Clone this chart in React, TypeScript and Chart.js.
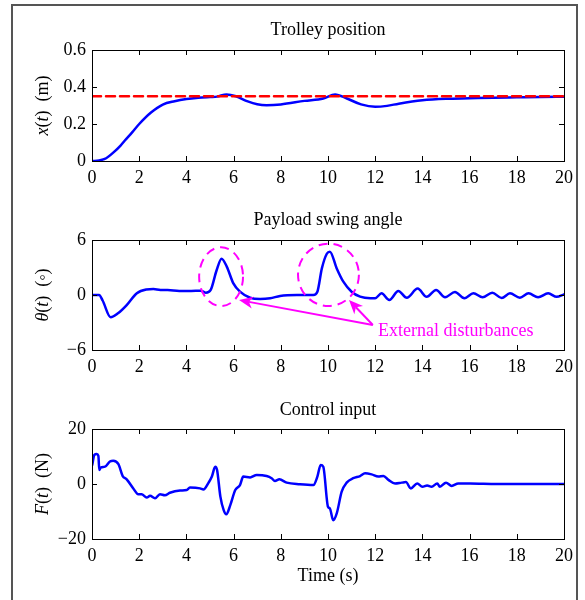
import React, { useEffect, useRef } from 'react';
import { Chart, registerables } from 'chart.js';

Chart.register(...registerables);

// ---------- data ----------
const timeTicks = [0, 2, 4, 6, 8, 10, 12, 14, 16, 18, 20];

const posT = [0, 0.3, 0.6, 0.9, 1.2, 1.4, 1.7, 2.0, 2.5, 3.0, 3.5, 4.0, 4.5, 5.0, 5.3, 5.7, 6.1, 6.6, 7.0, 7.4, 8.0, 9.0, 9.8, 10.3, 10.8, 11.4, 12.0, 12.5, 13.0, 14.0, 15.0, 16.0, 17.0, 18.0, 19.0, 20.0];
const posX = [0, 0.003, 0.015, 0.045, 0.082, 0.112, 0.155, 0.2, 0.262, 0.305, 0.323, 0.335, 0.342, 0.346, 0.348, 0.36, 0.35, 0.322, 0.307, 0.302, 0.306, 0.325, 0.338, 0.36, 0.338, 0.306, 0.293, 0.298, 0.31, 0.328, 0.336, 0.339, 0.342, 0.344, 0.346, 0.347];
const posRef = 0.35;
const posTicks = [0, 0.2, 0.4, 0.6];

const angT = [0, 0.3, 0.45, 0.79, 1.1, 1.47, 1.9, 2.3, 2.6, 2.9, 3.2, 3.7, 4.2, 4.6, 4.83, 5.03, 5.28, 5.49, 5.71, 5.99, 6.27, 6.7, 7.12, 7.55, 7.97, 8.68, 9.38, 9.55, 9.74, 9.95, 10.08, 10.37, 10.65, 11.0, 11.36, 11.8, 12.0, 12.27, 12.6, 12.98, 13.34, 13.8, 14.18, 14.58, 14.96, 15.38, 15.78, 16.16, 16.55, 16.96, 17.36, 17.71, 18.13, 18.5, 18.9, 19.33, 19.69, 20];
const angV = [0, 0, -0.6, -2.43, -2.0, -1.1, 0.2, 0.6, 0.65, 0.55, 0.55, 0.45, 0.45, 0.47, 0.25, 0.55, 2.7, 3.96, 3.1, 1.27, 0.36, -0.3, -0.44, -0.36, -0.1, 0, 0, 0.36, 2.9, 4.5, 4.73, 2.9, 1.45, 0.36, -0.18, -0.35, -0.35, 0.18, -0.55, 0.44, -0.3, 0.7, -0.2, 0.55, -0.25, 0.33, -0.36, 0.18, -0.25, 0.25, -0.33, 0.18, -0.3, 0.18, -0.25, 0.18, -0.2, 0.07];
const angTicks = [-6, 0, 6];

const forceT = [0.01, 0.1, 0.2, 0.27, 0.31, 0.37, 0.55, 0.76, 0.9, 1.12, 1.3, 1.47, 1.75, 1.96, 2.1, 2.32, 2.46, 2.67, 2.88, 3.09, 3.3, 3.73, 4.01, 4.15, 4.58, 4.72, 4.94, 5.08, 5.22, 5.3, 5.44, 5.58, 5.69, 5.86, 6.07, 6.27, 6.41, 6.7, 6.98, 7.4, 7.61, 7.75, 7.94, 8.25, 8.81, 9.38, 9.55, 9.69, 9.8, 10.0, 10.08, 10.22, 10.37, 10.58, 10.79, 11.07, 11.36, 11.57, 11.85, 12.13, 12.35, 12.56, 12.84, 13.12, 13.3, 13.51, 13.78, 14.0, 14.2, 14.39, 14.63, 14.74, 15.0, 15.24, 15.52, 16.02, 17.15, 20];
const forceV = [6.95, 10.6, 10.9, 10.2, 5.1, 6.0, 6.3, 8.2, 8.5, 7.2, 2.9, 1.7, -1.6, -3.7, -3.7, -4.9, -4.3, -5.2, -3.7, -4.1, -3.2, -2.4, -2.2, -1.3, -1.6, -2.0, 0.5, 2.7, 6.3, 5.1, -4.6, -9.5, -11, -7.7, -2.2, -0.4, 2.7, 2.4, 3.3, 2.9, 2.1, 1.1, 1.7, 0.5, -0.1, -0.4, 2.7, 6.95, 6.3, -8.3, -8.9, -13.2, -10.7, -2.8, 0.5, 2.1, 2.9, 3.9, 3.5, 2.7, 2.9, 1.5, 0.2, 0.5, 0.7, -1.6, 0.2, -1.0, -0.5, -1.0, 0.2, -1.0, 0.5, -0.7, 0.2, 0.2, 0, 0];
const forceTicks = [-20, 0, 20];

// annotation (in data units of the swing-angle panel)
const circleCX = [5.47, 10.02];
const circleCY = [2.0, 2.2];
const circleRX = [0.93, 1.29];
const circleRY = [3.2, 3.4];
const arrowTail = [11.9, -3.27];
const arrowTipX = [6.23, 10.89];
const arrowTipY = [-0.55, -0.55];
const noteText = 'External disturbances';
const notePos = [12.12, -4.0];

// ---------- helpers ----------
const SERIF = '"Liberation Serif", "Times New Roman", serif';
const BLUE = '#0000ff';
const MAGENTA = '#ff00ff';

const fmtMinus = (v: number) => (v < 0 ? '\u2212' + Math.abs(v) : String(v));

type Part = [string, boolean];

function decoPlugin(title: string, ylabel: Part[], xlabel: string | null, extra?: (c: any) => void) {
  return {
    id: 'deco-' + title.replace(/\s/g, ''),
    afterDraw(chart: any) {
      const { ctx, chartArea: a, scales } = chart;
      ctx.save();
      // frame
      ctx.strokeStyle = '#000';
      ctx.lineWidth = 1;
      ctx.strokeRect(Math.round(a.left) + 0.5, Math.round(a.top) + 0.5, Math.round(a.right - a.left), Math.round(a.bottom - a.top));
      // inward ticks
      const tl = 5;
      ctx.beginPath();
      scales.x.ticks.forEach((t: any) => {
        const x = Math.round(scales.x.getPixelForValue(t.value)) + 0.5;
        ctx.moveTo(x, a.bottom); ctx.lineTo(x, a.bottom - tl);
        ctx.moveTo(x, a.top); ctx.lineTo(x, a.top + tl);
      });
      scales.y.ticks.forEach((t: any) => {
        const y = Math.round(scales.y.getPixelForValue(t.value)) + 0.5;
        ctx.moveTo(a.left, y); ctx.lineTo(a.left + tl, y);
        ctx.moveTo(a.right, y); ctx.lineTo(a.right - tl, y);
      });
      ctx.stroke();
      // title
      ctx.fillStyle = '#000';
      ctx.font = `18px ${SERIF}`;
      ctx.textAlign = 'center';
      ctx.textBaseline = 'middle';
      ctx.fillText(title, (a.left + a.right) / 2, 30);
      // x label
      if (xlabel) {
        ctx.fillText(xlabel, (a.left + a.right) / 2, a.bottom + 37);
      }
      // y label (rotated, mixed italic)
      ctx.translate(43, (a.top + a.bottom) / 2);
      ctx.rotate(-Math.PI / 2);
      ctx.textAlign = 'left';
      let total = 0;
      ylabel.forEach(([s, it]) => {
        ctx.font = `${it ? 'italic ' : ''}18px ${SERIF}`;
        total += ctx.measureText(s).width;
      });
      let x0 = -total / 2;
      ylabel.forEach(([s, it]) => {
        ctx.font = `${it ? 'italic ' : ''}18px ${SERIF}`;
        ctx.fillText(s, x0, 0);
        x0 += ctx.measureText(s).width;
      });
      ctx.restore();
      if (extra) extra(chart);
    },
  };
}

function drawAnnotations(chart: any) {
  const { ctx, scales } = chart;
  const xs = scales.x, ys = scales.y;
  ctx.save();
  ctx.strokeStyle = MAGENTA;
  ctx.fillStyle = MAGENTA;
  ctx.lineWidth = 2;
  ctx.setLineDash([9, 6]);
  for (let i = 0; i < circleCX.length; i++) {
    const cx = xs.getPixelForValue(circleCX[i]);
    const cy = ys.getPixelForValue(circleCY[i]);
    const rx = Math.abs(xs.getPixelForValue(circleCX[i] + circleRX[i]) - cx);
    const ry = Math.abs(ys.getPixelForValue(circleCY[i] + circleRY[i]) - cy);
    ctx.beginPath();
    ctx.ellipse(cx, cy, rx, ry, 0, 0, Math.PI * 2);
    ctx.stroke();
  }
  ctx.setLineDash([]);
  const tx = xs.getPixelForValue(arrowTail[0]);
  const ty = ys.getPixelForValue(arrowTail[1]);
  ctx.lineWidth = 2;
  for (let i = 0; i < arrowTipX.length; i++) {
    const hx = xs.getPixelForValue(arrowTipX[i]);
    const hy = ys.getPixelForValue(arrowTipY[i]);
    const ang = Math.atan2(hy - ty, hx - tx);
    const L = 14, W = 6, N = 10;
    const bx = hx - Math.cos(ang) * N, by = hy - Math.sin(ang) * N;
    ctx.beginPath();
    ctx.moveTo(tx, ty);
    ctx.lineTo(bx, by);
    ctx.stroke();
    const px = -Math.sin(ang), py = Math.cos(ang);
    const wx = hx - Math.cos(ang) * L, wy = hy - Math.sin(ang) * L;
    ctx.beginPath();
    ctx.moveTo(hx, hy);
    ctx.lineTo(wx + px * W, wy + py * W);
    ctx.lineTo(bx, by);
    ctx.lineTo(wx - px * W, wy - py * W);
    ctx.closePath();
    ctx.fill();
  }
  ctx.font = `18px ${SERIF}`;
  ctx.textAlign = 'left';
  ctx.textBaseline = 'middle';
  ctx.fillText(noteText, xs.getPixelForValue(notePos[0]), ys.getPixelForValue(notePos[1]));
  ctx.restore();
}

function toPoints(t: number[], v: number[]) {
  return t.map((x, i) => ({ x, y: v[i] }));
}

function makeOptions(yTicks: number[], fmt: (v: number) => string, padTop: number, padBottom: number) {
  const tickFont = { family: SERIF, size: 18 };
  return {
    responsive: false,
    animation: false,
    events: [],
    layout: { padding: { left: 0, right: 21, top: padTop, bottom: padBottom } },
    plugins: { legend: { display: false }, tooltip: { enabled: false }, title: { display: false } },
    elements: { point: { radius: 0 }, line: { borderJoinStyle: 'round', borderCapStyle: 'round' } },
    scales: {
      x: {
        type: 'linear',
        min: 0,
        max: 20,
        afterBuildTicks: (s: any) => { s.ticks = timeTicks.map((v) => ({ value: v })); },
        afterFit: (s: any) => { s.height = 25; },
        ticks: { font: tickFont, color: '#000', padding: 6, maxRotation: 0, autoSkip: false, callback: (v: any) => fmtMinus(Number(v)) },
        grid: { display: false, drawTicks: false },
        border: { display: false },
      },
      y: {
        type: 'linear',
        min: yTicks[0],
        max: yTicks[yTicks.length - 1],
        afterBuildTicks: (s: any) => { s.ticks = yTicks.map((v) => ({ value: v })); },
        afterFit: (s: any) => { s.width = 92; },
        ticks: { font: tickFont, color: '#000', padding: 6, autoSkip: false, callback: (v: any) => fmt(Number(v)) },
        grid: { display: false, drawTicks: false },
        border: { display: false },
      },
    },
  };
}

export default function App() {
  const r1 = useRef<HTMLCanvasElement>(null);
  const r2 = useRef<HTMLCanvasElement>(null);
  const r3 = useRef<HTMLCanvasElement>(null);

  useEffect(() => {
    const charts: Chart[] = [];
    charts.push(new Chart(r1.current as HTMLCanvasElement, {
      type: 'line',
      data: {
        datasets: [
          { data: posT.map((x) => ({ x, y: posRef })) as any, borderColor: '#ff0000', borderWidth: 2.5, borderDash: [9, 5], fill: false },
          { data: toPoints(posT, posX) as any, borderColor: BLUE, borderWidth: 2.5, cubicInterpolationMode: 'monotone', fill: false },
        ],
      },
      options: makeOptions(posTicks, (v) => (v === 0 ? '0' : v.toFixed(1)), 50, 4) as any,
      plugins: [decoPlugin('Trolley position', [['x', true], ['(', false], ['t', true], [')  (m)', false]], null)],
    }));
    charts.push(new Chart(r2.current as HTMLCanvasElement, {
      type: 'line',
      data: {
        datasets: [
          { data: toPoints(angT, angV) as any, borderColor: BLUE, borderWidth: 2.5, cubicInterpolationMode: 'monotone', fill: false },
        ],
      },
      options: makeOptions(angTicks, fmtMinus, 50, 5) as any,
      plugins: [decoPlugin('Payload swing angle', [['\u03b8', true], ['(', false], ['t', true], [')  (\u25e6)', false]], null, drawAnnotations)],
    }));
    charts.push(new Chart(r3.current as HTMLCanvasElement, {
      type: 'line',
      data: {
        datasets: [
          { data: toPoints(forceT, forceV) as any, borderColor: BLUE, borderWidth: 2.5, cubicInterpolationMode: 'monotone', fill: false },
        ],
      },
      options: makeOptions(forceTicks, fmtMinus, 49, 36) as any,
      plugins: [decoPlugin('Control input', [['F', true], ['(', false], ['t', true], [')  (N)', false]], 'Time (s)')],
    }));
    return () => charts.forEach((c) => c.destroy());
  }, []);

  const cv: React.CSSProperties = { position: 'absolute', left: 0 };
  return (
    <div style={{ position: 'fixed', left: 0, top: 0, width: 585, height: 600, background: '#fff', overflow: 'hidden' }}>
      <div style={{ position: 'absolute', left: 11, top: 4, width: 567, height: 640, border: '2px solid #555', boxSizing: 'border-box' }} />
      <canvas ref={r1} width={585} height={190} style={{ ...cv, top: 0 }} />
      <canvas ref={r2} width={585} height={190} style={{ ...cv, top: 190 }} />
      <canvas ref={r3} width={585} height={220} style={{ ...cv, top: 380 }} />
    </div>
  );
}
